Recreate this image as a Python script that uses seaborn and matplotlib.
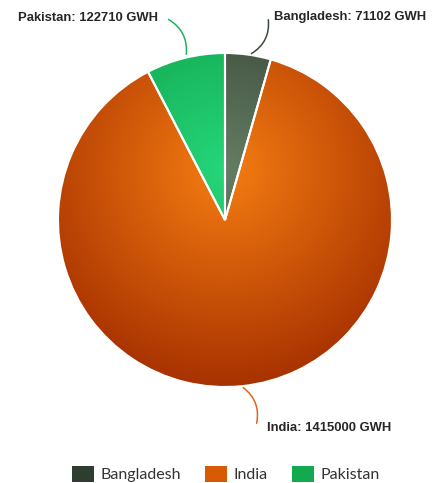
import numpy as np
import matplotlib
matplotlib.use("Agg")
import matplotlib.pyplot as plt
from matplotlib.patches import Patch
import seaborn as sns

# data
countries = ["Bangladesh", "India", "Pakistan"]
gwh = [71102, 1415000, 122710]
# colours: dark edge, light centre of the radial gradient
edge_cols = ["#2e3c2e", "#a52f00", "#0c9a44"]
mid_cols = ["#657d63", "#f57d12", "#26d67a"]
legend_cols = ["#2f3d30", "#d85a05", "#13a94f"]

sns.set_style("white")

fig = plt.figure(figsize=(4.33, 4.83), dpi=100)
ax = fig.add_axes([0, 0, 1, 1])
R = 167.0
cx, cy = 225.0, 220.0

wedges, _ = ax.pie(gwh, startangle=90, counterclock=False, radius=1,
                   colors=mid_cols, wedgeprops=dict(linewidth=0))

# radial gradient per wedge, focus a bit above the centre
yy, xx = np.mgrid[-1:1:400j, -1:1:400j]
rr = np.sqrt(xx ** 2 + (yy - 0.3) ** 2) / 1.35
rr = np.clip(rr, 0, 1)
for w, ec, mc in zip(wedges, edge_cols, mid_cols):
    cmap = sns.blend_palette([mc, ec], as_cmap=True)
    im = ax.imshow(rr, cmap=cmap, extent=[-1, 1, -1, 1], origin="lower",
                   vmin=0, vmax=1, interpolation="bilinear", zorder=2, aspect="auto")
    im.set_clip_path(w)
    w.set_facecolor("none")
    w.set_edgecolor("white")
    w.set_linewidth(1.5)
    w.set_zorder(3)
ax.set_xlim(-cx / R, (433 - cx) / R)
ax.set_ylim(-(483 - cy) / R, cy / R)
ax.set_aspect("auto")
ax.axis("off")

# labels with connectors (pixel layout)
def px(x, y):
    return ((x - cx) / R, (cy - y) / R)

labels = [f"{c}: {v} GWH" for c, v in zip(countries, gwh)]
line_cols = ["#3c4a3c", "#e0661a", "#1ab35a"]
text_pos = [(274, 17, "left"), (267, 428, "left"), (158, 18, "right")]
anchor = [(249, 55), (241, 386), (186, 57)]
conn_end = [(268, 17), (256, 426), (166, 18)]
rads = [-0.35, 0.35, -0.35]
for lab, lc, tp, an, ce, rd in zip(labels, line_cols, text_pos, anchor, conn_end, rads):
    ax.text(*px(tp[0], tp[1]), lab, ha=tp[2], va="center", fontsize=9.4,
            fontweight="bold", family="Liberation Sans", color="#262626", zorder=5)
    ax.annotate("", xy=px(*an), xytext=px(*ce),
                arrowprops=dict(arrowstyle="-", color=lc, lw=1.1,
                                connectionstyle=f"arc3,rad={rd}"), zorder=4)

handles = [Patch(facecolor=c, edgecolor="none") for c in legend_cols]
fig.legend(handles, countries, loc="lower center", bbox_to_anchor=(0.522, -0.028),
           ncol=3, frameon=False, prop={"family": "Lato", "size": 11.5},
           handlelength=1.35, handleheight=1.2, columnspacing=1.5,
           handletextpad=0.45, labelcolor="#333333")

fig.savefig("out.png", dpi=100, facecolor="white")
